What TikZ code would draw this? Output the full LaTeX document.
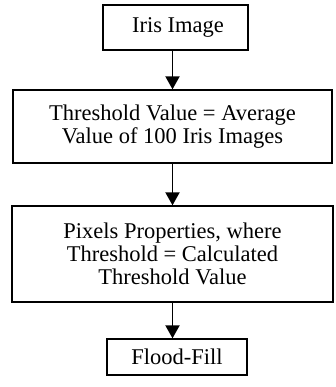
\documentclass[tikz,border=0pt]{standalone}
\usepackage{fontspec}
\setmainfont{Liberation Serif}
\usetikzlibrary{arrows.meta}
\begin{document}
\begin{tikzpicture}[x=1pt,y=1pt,
  box/.style={draw=black, line width=1.3pt, inner sep=0pt, align=center,
    font=\fontsize{22.5}{23}\selectfont},
  flow/.style={line width=1.9pt, -{Triangle[width=14pt,length=13pt]}}]
\useasboundingbox (0,0) rectangle (335,387);
\node[box, minimum width=145pt, minimum height=45pt] (b1) at (175.5,359.5) {\hspace*{5pt}Iris Image};
\node[box, minimum width=319pt, minimum height=73pt] (b2) at (172.5,260.5) {Threshold Value = Average\\Value of 100 Iris Images};
\node[box, minimum width=321pt, minimum height=96pt] (b3) at (172.5,133) {Pixels Properties, where\\Threshold = Calculated\\Threshold Value};
\node[box, minimum width=140pt, minimum height=36pt] (b4) at (177,30) {Flood-Fill};
\draw[flow] (b1.south -| b2.center) -- (b2.north);
\draw[flow] (b2.south) -- (b3.north);
\draw[flow] (b3.south) -- (b4.north -| b3.center);
\end{tikzpicture}
\end{document}
